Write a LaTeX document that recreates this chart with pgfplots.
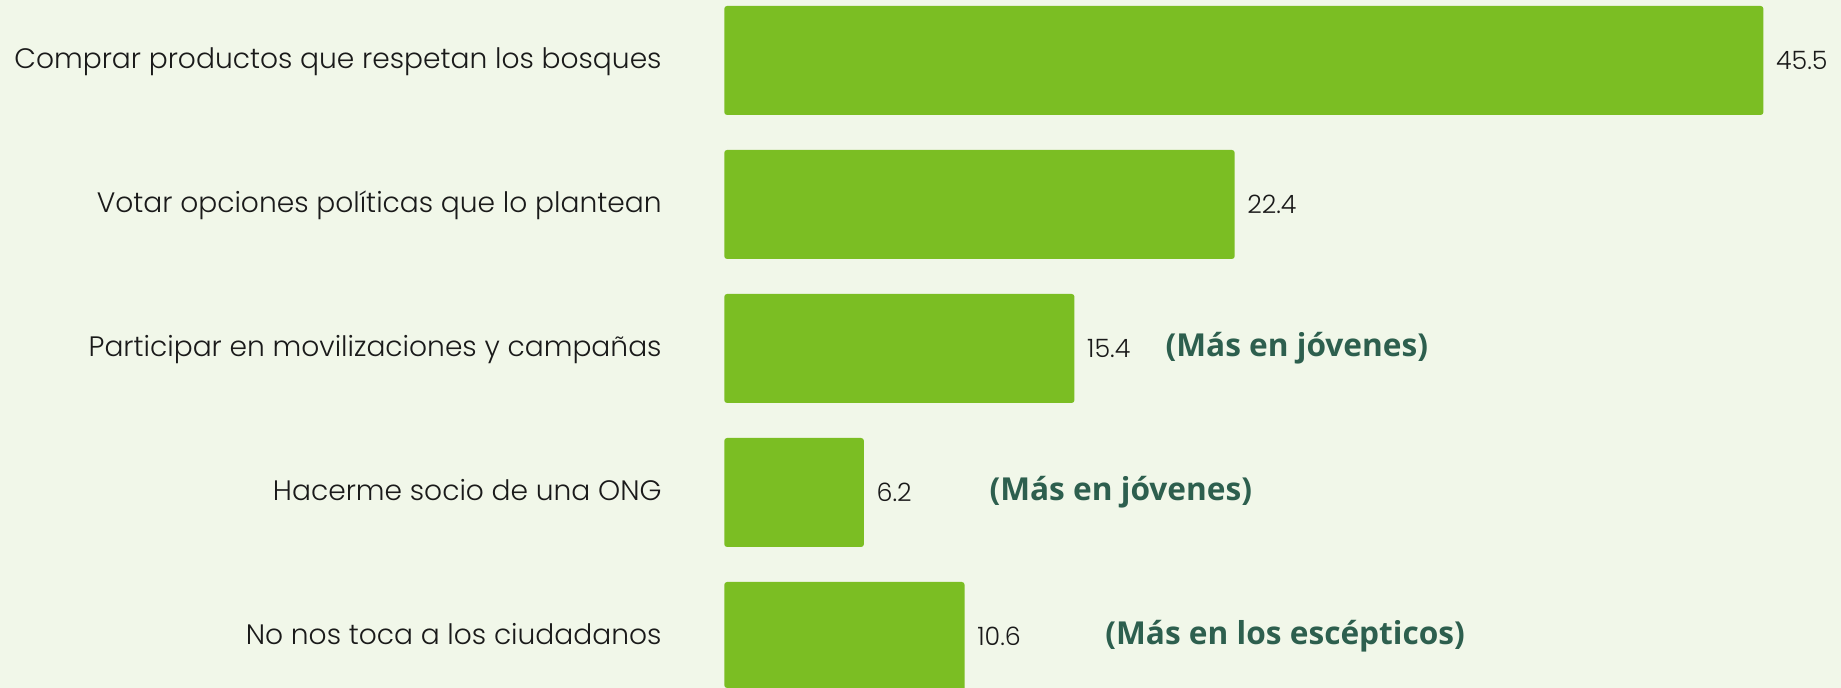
\documentclass[border=0pt]{standalone}
\usepackage{fontspec}
\usepackage{pgfplots}
\pgfplotsset{compat=1.18}
\setmainfont{Poppins}[UprightFont={* Light}]
\newfontfamily\notefont{Open Sans}[UprightFont={* Bold}]
\definecolor{bgc}{HTML}{F1F7E9}
\definecolor{barc}{HTML}{7BBE23}
\definecolor{notec}{HTML}{2D5F4E}
\definecolor{txt}{HTML}{1A1A1A}

\begin{document}
\begin{tikzpicture}
\fill[bgc] (0,0) rectangle (184.1mm,68.8mm);
\useasboundingbox (0,0) rectangle (184.1mm,68.8mm);
\begin{axis}[
  at={(72.43mm,0mm)}, anchor=south west,
  scale only axis, width=111.67mm, height=68.8mm,
  xmin=0.1, xmax=48.89, ymin=-0.3576, ymax=4.42,
  xbar, bar width=10.9mm,
  axis line style={draw=none}, tick style={draw=none}, major tick length=0pt,
  xtick=\empty,
  ytick={0,1,2,3,4},
  yticklabels={No nos toca a los ciudadanos,Hacerme socio de una ONG,Participar en movilizaciones y campañas,Votar opciones políticas que lo plantean,Comprar productos que respetan los bosques},
  yticklabel style={anchor=base east, inner sep=0pt, xshift=-6.2mm, yshift=-0.8mm, font=\fontsize{8.0}{9}\selectfont, text=txt},
  clip mode=individual,
  /pgf/number format/assume math mode=true,
  nodes near coords,
  nodes near coords style={anchor=west, inner sep=0pt, xshift=1.2mm, font=\fontsize{7.2}{8}\selectfont, text=txt},
]
\addplot[fill=barc, draw=none, rounded corners=0.8pt] table[x=v, y=p] {
p v
4 45.5
3 22.4
2 15.4
1 6.2
0 10.6
};
\node[anchor=west, inner sep=0pt, text=notec, font=\notefont\fontsize{9}{10}\selectfont] at (axis cs:19.35,2) {(Más en jóvenes)};
\node[anchor=west, inner sep=0pt, text=notec, font=\notefont\fontsize{9}{10}\selectfont] at (axis cs:11.66,1) {(Más en jóvenes)};
\node[anchor=west, inner sep=0pt, text=notec, font=\notefont\fontsize{9}{10}\selectfont] at (axis cs:16.72,0) {(Más en los escépticos)};
\end{axis}
\end{tikzpicture}
\end{document}
